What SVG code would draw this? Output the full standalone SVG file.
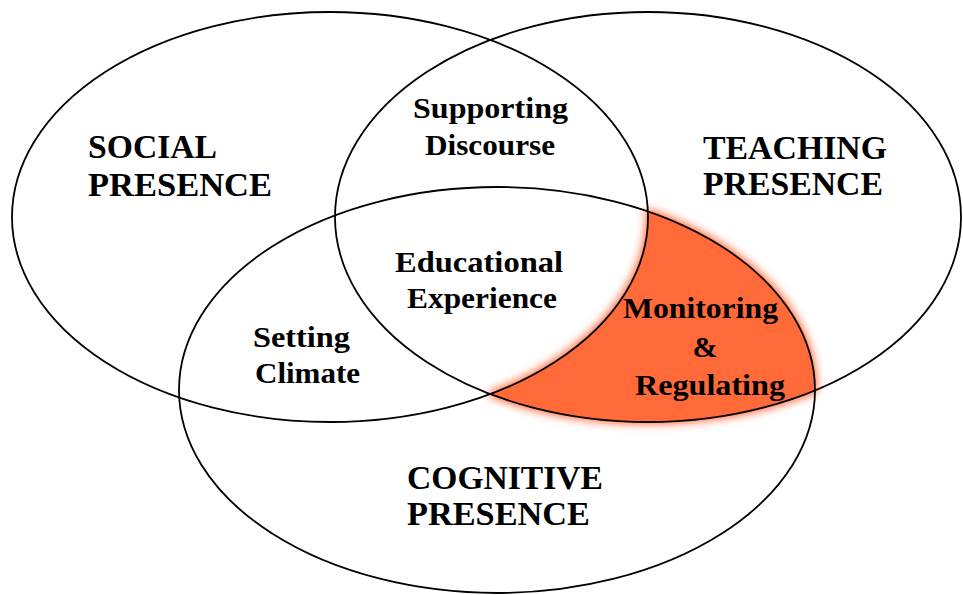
<svg xmlns="http://www.w3.org/2000/svg" width="963" height="595" viewBox="0 0 963 595">
<style>
.ring{fill:none;stroke:#000;stroke-width:1.8}
.lbl{font-family:"Liberation Serif","Times New Roman",serif;font-weight:bold;fill:#000}
.big{font-size:34px}
.mid{font-size:30px}
</style>
<defs>
<clipPath id="clipT"><ellipse cx="648" cy="217" rx="313" ry="205"/></clipPath>
<mask id="mR" maskUnits="userSpaceOnUse" x="0" y="0" width="963" height="595">
<rect x="0" y="0" width="963" height="595" fill="#000"/>
<g clip-path="url(#clipT)"><ellipse cx="497" cy="390" rx="318" ry="203" fill="#fff"/></g>
<ellipse cx="330" cy="217" rx="318" ry="205" fill="#000"/>
</mask>
<filter id="glow" x="-20%" y="-20%" width="140%" height="140%">
<feMorphology operator="dilate" radius="2" in="SourceGraphic" result="d"/>
<feGaussianBlur in="d" stdDeviation="4" result="b"/>
<feMerge><feMergeNode in="b"/><feMergeNode in="SourceGraphic"/></feMerge>
</filter>
</defs>
<rect x="0" y="0" width="963" height="595" fill="#fff"/>
<g id="monitoring-regulating">
<g filter="url(#glow)"><rect x="0" y="0" width="963" height="595" fill="#FF6B38" mask="url(#mR)"/></g>
</g>
<g id="social-presence">
<ellipse class="ring" cx="330" cy="217" rx="318" ry="205"/>
<text class="lbl big" x="88" y="158" textLength="129" lengthAdjust="spacingAndGlyphs">SOCIAL</text>
<text class="lbl big" x="88" y="196" textLength="184" lengthAdjust="spacingAndGlyphs">PRESENCE</text>
</g>
<g id="teaching-presence">
<ellipse class="ring" cx="648" cy="217" rx="313" ry="205"/>
<text class="lbl big" x="703" y="159" textLength="184" lengthAdjust="spacingAndGlyphs">TEACHING</text>
<text class="lbl big" x="703" y="195" textLength="180" lengthAdjust="spacingAndGlyphs">PRESENCE</text>
</g>
<g id="cognitive-presence">
<ellipse class="ring" cx="497" cy="390" rx="318" ry="203"/>
<text class="lbl big" x="407" y="489" textLength="196" lengthAdjust="spacingAndGlyphs">COGNITIVE</text>
<text class="lbl big" x="407" y="525" textLength="183" lengthAdjust="spacingAndGlyphs">PRESENCE</text>
</g>
<g id="supporting-discourse">
<text class="lbl mid" x="413" y="118" textLength="155" lengthAdjust="spacingAndGlyphs">Supporting</text>
<text class="lbl mid" x="425" y="155" textLength="130" lengthAdjust="spacingAndGlyphs">Discourse</text>
</g>
<g id="educational-experience">
<text class="lbl mid" x="395" y="272" textLength="168" lengthAdjust="spacingAndGlyphs">Educational</text>
<text class="lbl mid" x="407" y="308" textLength="150" lengthAdjust="spacingAndGlyphs">Experience</text>
</g>
<g id="setting-climate">
<text class="lbl mid" x="253" y="347" textLength="97" lengthAdjust="spacingAndGlyphs">Setting</text>
<text class="lbl mid" x="255" y="383" textLength="105" lengthAdjust="spacingAndGlyphs">Climate</text>
</g>
<g id="monitoring-label">
<text class="lbl mid" x="623" y="318" textLength="155" lengthAdjust="spacingAndGlyphs">Monitoring</text>
<text class="lbl mid" x="705" y="357" text-anchor="middle">&amp;</text>
<text class="lbl mid" x="635" y="395" textLength="150" lengthAdjust="spacingAndGlyphs">Regulating</text>
</g>
</svg>
